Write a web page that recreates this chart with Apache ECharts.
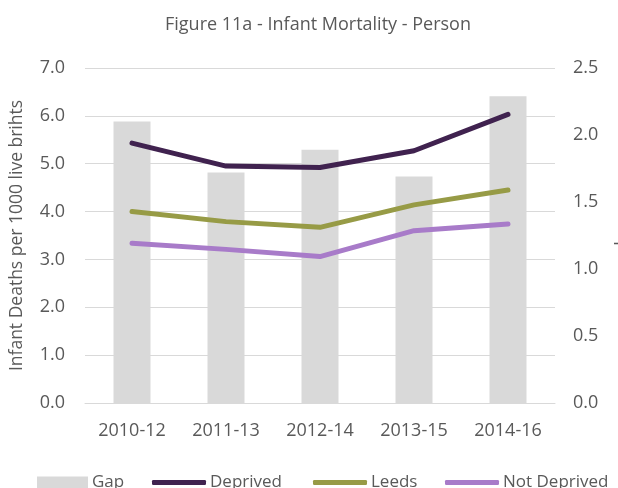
<!DOCTYPE html>
<html>
<head>
<meta charset="utf-8">
<script src="https://cdn.jsdelivr.net/npm/echarts@6/dist/echarts.min.js"></script>
<style>
  html, body { margin: 0; padding: 0; background: #fff; }
  #chart { width: 618px; height: 488px; }
</style>
</head>
<body>
<div id="chart"></div>
<script>
// values
var categories = ['2010-12', '2011-13', '2012-14', '2013-15', '2014-16']
var gap = [2.10, 1.72, 1.89, 1.69, 2.29]
var deprived = [5.43, 4.95, 4.92, 5.27, 6.03]
var leeds = [4.00, 3.79, 3.67, 4.14, 4.45]
var notDeprived = [3.34, 3.21, 3.06, 3.60, 3.74]

var textColor = '#595959'
var gridColor = '#d9d9d9'
var font = 'Open Sans'

function lineSeries(name, data, color) {
  return {
    name: name,
    type: 'line',
    yAxisIndex: 0,
    data: data,
    symbol: 'none',
    z: 3,
    lineStyle: { color: color, width: 5, cap: 'round', join: 'round' },
    itemStyle: { color: color }
  }
}

function legendItem(name, left, isLine) {
  return {
    data: [name],
    left: left,
    top: 469,
    icon: isLine ? 'roundRect' : 'rect',
    itemWidth: isLine ? 54 : 51,
    itemHeight: isLine ? 5 : 12,
    itemGap: 0,
    textStyle: { color: textColor, fontFamily: font, fontSize: 17, padding: [0, 0, 0, -1] }
  }
}

var chart = echarts.init(document.getElementById('chart'))
chart.setOption({
  animation: false,
  title: {
    text: 'Figure 11a - Infant Mortality - Person',
    left: 160,
    top: 11,
    textStyle: { color: textColor, fontFamily: font, fontSize: 18, fontWeight: 'normal' }
  },
  legend: [
    legendItem('Gap', 32, false),
    legendItem('Deprived', 147, true),
    legendItem('Leeds', 308, true),
    legendItem('Not Deprived', 440, true)
  ],
  grid: { left: 85, right: 63, top: 68, bottom: 85, outerBoundsMode: 'none' },
  xAxis: {
    type: 'category',
    data: categories,
    axisLine: { lineStyle: { color: gridColor, width: 1 } },
    axisTick: { show: false },
    axisLabel: { color: textColor, fontFamily: font, fontSize: 18, margin: 19 }
  },
  yAxis: [
    {
      type: 'value',
      min: 0,
      max: 7,
      interval: 1,
      name: 'Infant Deaths per 1000 live brihts',
      nameLocation: 'middle',
      nameGap: 59,
      nameTextStyle: { color: textColor, fontFamily: font, fontSize: 17.5 },
      axisLine: { show: false },
      axisTick: { show: false },
      splitLine: { lineStyle: { color: gridColor, width: 1 } },
      axisLabel: {
        color: textColor, fontFamily: font, fontSize: 18, margin: 20,
        formatter: function (v) { return v.toFixed(1) }
      }
    },
    {
      type: 'value',
      min: 0,
      max: 2.5,
      interval: 0.5,
      position: 'right',
      name: 'Gap',
      nameLocation: 'middle',
      nameGap: 59,
      nameRotate: -90,
      nameTextStyle: { color: textColor, fontFamily: font, fontSize: 17.5 },
      axisLine: { show: false },
      axisTick: { show: false },
      splitLine: { show: false },
      axisLabel: {
        color: textColor, fontFamily: font, fontSize: 18, margin: 18,
        formatter: function (v) { return v.toFixed(1) }
      }
    }
  ],
  series: [
    {
      name: 'Gap',
      type: 'bar',
      yAxisIndex: 1,
      data: gap,
      barWidth: 37,
      z: 1,
      itemStyle: { color: gridColor }
    },
    lineSeries('Deprived', deprived, '#40224f'),
    lineSeries('Leeds', leeds, '#979b46'),
    lineSeries('Not Deprived', notDeprived, '#a87bc9')
  ]
})
</script>
</body>
</html>
